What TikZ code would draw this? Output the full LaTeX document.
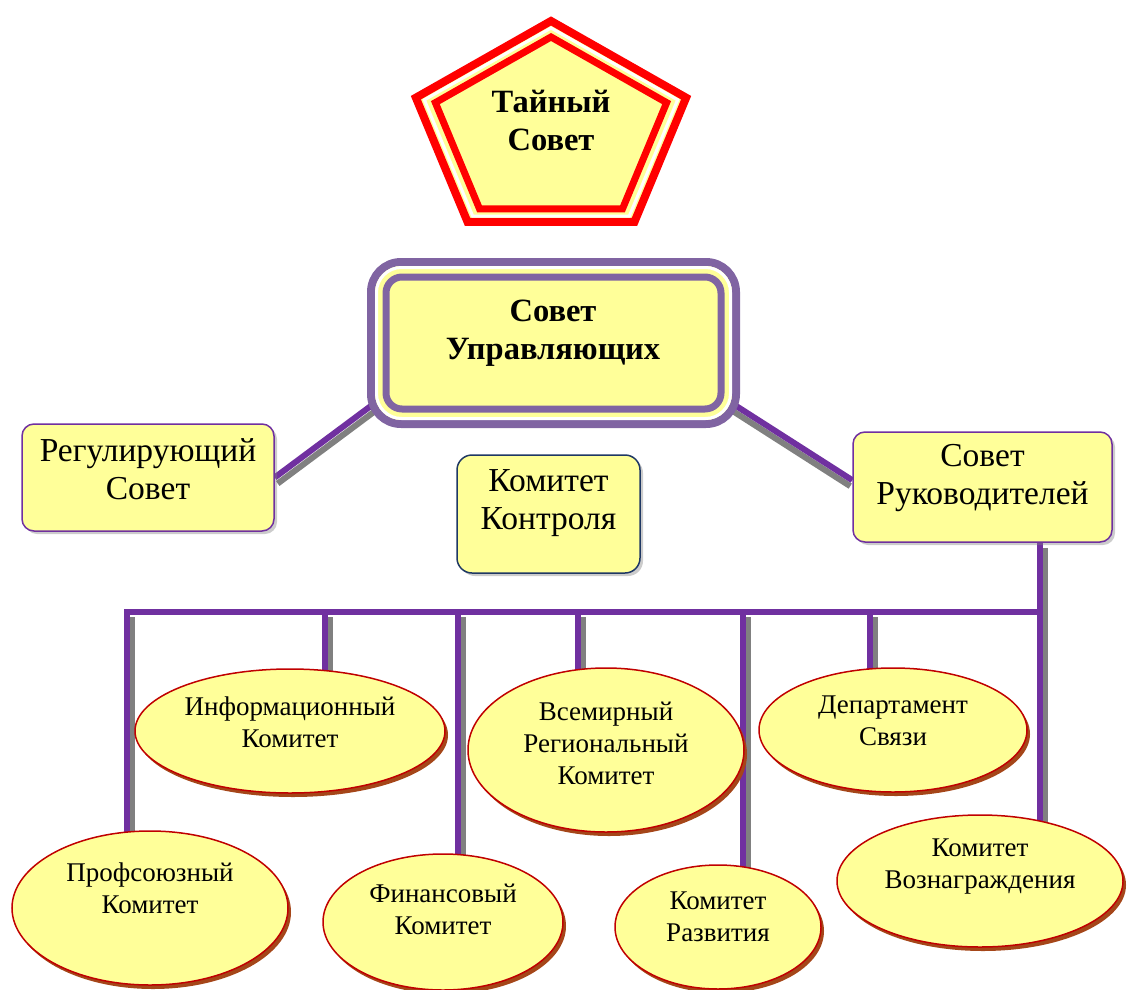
\documentclass[tikz,border=0pt]{standalone}
\usepackage{fontspec}
\setmainfont{Liberation Serif}
\usetikzlibrary{shapes.geometric,shadows,backgrounds}
\definecolor{figfill}{RGB}{255,255,153}
\definecolor{figred}{RGB}{255,0,0}
\definecolor{figframe}{RGB}{128,100,162}
\definecolor{figline}{RGB}{112,48,160}
\definecolor{figshade}{RGB}{128,128,128}
\definecolor{fignavy}{RGB}{31,56,100}
\definecolor{figrim}{RGB}{192,0,0}
\definecolor{figrimshade}{RGB}{165,70,25}
\tikzset{
  box/.style  ={draw=figline, line width=1.5pt, fill=figfill, rounded corners=12pt,
                drop shadow={shadow xshift=3pt,shadow yshift=-3pt,opacity=0.4}},
  ell/.style  ={ellipse, draw=figrim, line width=1.5pt, fill=figfill, inner sep=0pt,
                drop shadow={shadow xshift=3pt,shadow yshift=-4pt,fill=figrimshade,opacity=1}},
  txt/.style  ={align=center, font=\fontsize{33.5}{38}\selectfont, inner sep=0pt},
  etxt/.style ={align=center, font=\fontsize{27}{32}\selectfont, inner sep=0pt},
  btxt/.style ={align=center, font=\fontsize{32.5}{38}\selectfont\bfseries, inner sep=0pt},
  link/.style ={draw=figline, line width=6pt},
  lshade/.style={draw=figshade, line width=6pt},
  vshade/.style={lshade, transform canvas={xshift=5pt,yshift=-5pt}},
}

\begin{document}
\begin{tikzpicture}[x=1pt,y=-1pt]
  \useasboundingbox (0,0) rectangle (1132,990);
  % pentagon
  \begin{scope}[shift={(551,132)},xscale=1.28]
    \filldraw[fill=figfill,draw=figred,line width=8pt] (-90:111) -- (-162:111) -- (-234:111) -- (-306:111) -- (-18:111) -- cycle;
    \draw[white,line width=3pt] (-90:104) -- (-162:104) -- (-234:104) -- (-306:104) -- (-18:104) -- cycle;
    \draw[figred,line width=7pt] (-90:95) -- (-162:95) -- (-234:95) -- (-306:95) -- (-18:95) -- cycle;
  \end{scope}
  \node[btxt] (tajny) at (551,120.5) {Тайный\\Совет};
  % top board
  \node[draw=figframe,line width=8pt,fill=figfill,rounded corners=30pt,outer sep=0pt,
        minimum width=365pt,minimum height=162pt] (upr) at (553.5,343) {};
  \draw[white,line width=3pt,rounded corners=25pt] ([shift={(5.5,5.5)}]upr.north west) rectangle ([shift={(-5.5,-5.5)}]upr.south east);
  \draw[figframe,line width=7pt,rounded corners=16pt] ([shift={(15,15)}]upr.north west) rectangle ([shift={(-15,-15)}]upr.south east);
  \node[btxt] (upr-t) at (553,333) {Совет\\Управляющих};
  % boxes
  \node[box,minimum width=252pt,minimum height=107pt] (reg) at (148,477.5) {};
  \node[txt] (reg-t) at (148,469.5) {Регулирующий\\Совет};
  \node[box,draw=fignavy,rounded corners=15pt,minimum width=183pt,minimum height=118pt] (kon) at (548.5,514) {};
  \node[txt] (kon-t) at (548.5,503) {Комитет\\Контроля};
  \node[box,minimum width=259pt,minimum height=110pt] (ruk) at (982.5,487) {};
  \node[txt] (ruk-t) at (982.5,478) {Совет\\Руководителей};
  % committees
  \node[ell,minimum width=310pt,minimum height=124pt] (inf) at (290,731) {};
  \node[etxt] (inf-t) at (290,722) {Информационный\\Комитет};
  \node[ell,minimum width=276pt,minimum height=164pt] (vsem) at (606,750) {};
  \node[etxt] (vsem-t) at (606,743) {Всемирный\\Региональный\\Комитет};
  \node[ell,minimum width=268pt,minimum height=124pt] (dep) at (893,730) {};
  \node[etxt] (dep-t) at (893,721) {Департамент\\Связи};
  \node[ell,minimum width=276pt,minimum height=154pt] (prof) at (150,908) {};
  \node[etxt] (prof-t) at (150,888) {Профсоюзный\\Комитет};
  \node[ell,minimum width=240pt,minimum height=136pt] (fin) at (443,922) {};
  \node[etxt] (fin-t) at (443,909) {Финансовый\\Комитет};
  \node[ell,minimum width=206pt,minimum height=124pt] (razv) at (718,927) {};
  \node[etxt] (razv-t) at (718,917) {Комитет\\Развития};
  \node[ell,minimum width=286pt,minimum height=132pt] (voz) at (980,881) {};
  \node[etxt] (voz-t) at (980,867) {Комитет\\Вознаграждения};
  % bus
  \coordinate (d-prof) at (127,612);
  \coordinate (d-inf) at (325,612);
  \coordinate (d-fin) at (458,612);
  \coordinate (d-vsem) at (578,612);
  \coordinate (d-razv) at (743,612);
  \coordinate (d-dep) at (870,612);
  \coordinate (d-voz) at (1040,612);
  \begin{scope}[on background layer]
    \draw[lshade,transform canvas={xshift=3pt,yshift=-6pt}] (reg.east) -- (upr.199);
    \draw[lshade,transform canvas={xshift=-2pt,yshift=-6pt}] (upr.341) -- (ruk.177);
    \draw[vshade] (ruk.south -| d-voz) -- (d-voz |- voz.center);
    \foreach \n in {prof,inf,fin,vsem,razv,dep}
      \draw[vshade] (d-\n) -- (d-\n |- \n.center);
    \draw[link] (reg.east) -- (upr.199);
    \draw[link] (upr.341) -- (ruk.177);
    \draw[link] (ruk.south -| d-voz) -- (d-voz);
    \draw[link] (d-prof |- prof.center) -- (d-prof) -- (d-voz) -- (d-voz |- voz.center);
    \foreach \n in {inf,fin,vsem,razv,dep}
      \draw[link] (d-\n) -- (d-\n |- \n.center);
  \end{scope}
\end{tikzpicture}
\end{document}
